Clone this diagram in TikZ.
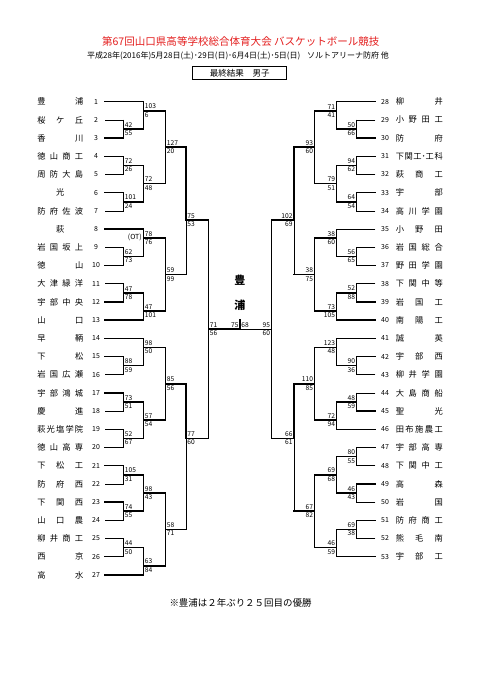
\documentclass[tikz,border=0pt]{standalone}
\usepackage{fontspec}
\setmainfont{Noto Sans CJK JP}
\usetikzlibrary{positioning}
\definecolor{titlered}{RGB}{228,30,30}
\tikzset{
    % Bracket lines
    win/.style  = {line width=1.15pt, line cap=rect},
    lose/.style = {line width=0.45pt, line cap=rect},
    % Texts
    score/.style      = {inner xsep=0.9pt, inner ysep=1.1pt, font=\fontsize{5}{5}\selectfont},
    teamno/.style     = {inner sep=0pt, font=\fontsize{5.2}{5.2}\selectfont},
    teamname/.style   = {inner sep=0pt, anchor=west, font=\fontsize{6.2}{6.2}\selectfont},
    heading/.style    = {inner sep=0pt, text=titlered, font=\fontsize{7.9}{8}\selectfont},
    subheading/.style = {inner sep=0pt, font=\fontsize{6}{6}\selectfont},
    resultbox/.style  = {draw, line width=0.5pt, minimum width=70.5pt, minimum height=9.5pt,
                         inner sep=0pt, font=\fontsize{6.4}{6.4}\selectfont},
    champion/.style   = {inner sep=0pt, font=\bfseries\fontsize{8.3}{8.3}\selectfont},
    note/.style       = {inner sep=0pt, font=\fontsize{7.1}{7.1}\selectfont}
}
% half-row grid (pixels, y down)
\newcommand{\ry}[1]{101.7+9.1*(#1)}
% columns of the bracket
\newcommand{\lxa}{123.5}\newcommand{\lxb}{143.5}\newcommand{\lxc}{165.5}
\newcommand{\lxd}{186}\newcommand{\lxe}{208.5}
\newcommand{\rxa}{356.5}\newcommand{\rxb}{336.5}\newcommand{\rxc}{314.5}
\newcommand{\rxd}{294}\newcommand{\rxe}{271.5}
\newcommand{\scoreside}{west}
% team: number, name, x of first match, line style
\newcommand{\lteam}[4]{%
    \node[teamname] (name#1) at (37,{\ry{2*(#1-1)}}) {\hbox to 34.5pt{#2}};
    \node[teamno] (no#1) at (96,{\ry{2*(#1-1)}}) {#1};
    \draw[#4] (105,{\ry{2*(#1-1)}}) -- (#3,{\ry{2*(#1-1)}});
}
\newcommand{\rteam}[4]{%
    \node[teamno] (no#1) at (385,{\ry{2*(#1-28)}}) {#1};
    \node[teamname] (name#1) at (395.5,{\ry{2*(#1-28)}}) {\hbox to 35.25pt{#2}};
    \draw[#4] (375,{\ry{2*(#1-28)}}) -- (#3,{\ry{2*(#1-28)}});
}
% match: id, x, top row, out row, bottom row, next x, top score, bottom score,
% 1 = top wins, 2 = bottom wins, 3 = top wins (thin out line)
\newcommand{\match}[9]{%
    \ifcase#9\or
        \draw[win]  (#2,{\ry{#3}}) -- (#2,{\ry{#4}});
        \draw[lose] (#2,{\ry{#4}}) -- (#2,{\ry{#5}});
        \draw[win]  (#2,{\ry{#4}}) -- (#6,{\ry{#4}});
    \or
        \draw[lose] (#2,{\ry{#3}}) -- (#2,{\ry{#4}});
        \draw[win]  (#2,{\ry{#4}}) -- (#2,{\ry{#5}});
        \draw[win]  (#2,{\ry{#4}}) -- (#6,{\ry{#4}});
    \or
        \draw[win]  (#2,{\ry{#3}}) -- (#2,{\ry{#4}});
        \draw[lose] (#2,{\ry{#4}}) -- (#2,{\ry{#5}});
        \draw[lose] (#2,{\ry{#4}}) -- (#6,{\ry{#4}});
    \fi
    \node[score, anchor=south \scoreside] (#1-top) at (#2,{\ry{#4}}) {#7};
    \node[score, anchor=north \scoreside] (#1-bot) at (#2,{\ry{#4}}) {#8};
}

\begin{document}
\begin{tikzpicture}[x=0.75pt, y=-0.75pt]
    \useasboundingbox (0,0) rectangle (481,680);
    \fill[white] (0,0) rectangle (481,680);

    % Heading
    \node[heading] (title) at (240.8,41.7) {第67回山口県高等学校総合体育大会 バスケットボール競技};
    \node[subheading] (dates) at (238,56) {平成28年(2016年)5月28日(土)･29日(日)･6月4日(土)･5日(日)\hspace{5pt}ソルトアリーナ防府 他};
    \node[resultbox] (result) at (239.7,73) {最終結果　男子};

    % Left teams
    \lteam{1}{豊\hfill 浦}{\lxb}{win}
    \lteam{2}{桜\hfill ケ\hfill 丘}{\lxa}{lose}
    \lteam{3}{香\hfill 川}{\lxa}{win}
    \lteam{4}{徳\hfill 山\hfill 商\hfill 工}{\lxa}{win}
    \lteam{5}{周\hfill 防\hfill 大\hfill 島}{\lxa}{lose}
    \lteam{6}{\hfill 光\hfill}{\lxa}{win}
    \lteam{7}{防\hfill 府\hfill 佐\hfill 波}{\lxa}{lose}
    \lteam{8}{\hfill 萩\hfill}{\lxb}{win}
    \lteam{9}{岩\hfill 国\hfill 坂\hfill 上}{\lxa}{lose}
    \lteam{10}{徳\hfill 山}{\lxa}{win}
    \lteam{11}{大\hfill 津\hfill 緑\hfill 洋}{\lxa}{lose}
    \lteam{12}{宇\hfill 部\hfill 中\hfill 央}{\lxa}{win}
    \lteam{13}{山\hfill 口}{\lxb}{win}
    \lteam{14}{早\hfill 鞆}{\lxb}{win}
    \lteam{15}{下\hfill 松}{\lxa}{win}
    \lteam{16}{岩\hfill 国\hfill 広\hfill 瀬}{\lxa}{lose}
    \lteam{17}{宇\hfill 部\hfill 鴻\hfill 城}{\lxa}{win}
    \lteam{18}{慶\hfill 進}{\lxa}{lose}
    \lteam{19}{萩\hfill 光\hfill 塩\hfill 学\hfill 院}{\lxa}{lose}
    \lteam{20}{徳\hfill 山\hfill 高\hfill 専}{\lxa}{win}
    \lteam{21}{下\hfill 松\hfill 工}{\lxa}{win}
    \lteam{22}{防\hfill 府\hfill 西}{\lxa}{lose}
    \lteam{23}{下\hfill 関\hfill 西}{\lxa}{win}
    \lteam{24}{山\hfill 口\hfill 農}{\lxa}{lose}
    \lteam{25}{柳\hfill 井\hfill 商\hfill 工}{\lxa}{lose}
    \lteam{26}{西\hfill 京}{\lxa}{win}
    \lteam{27}{高\hfill 水}{\lxb}{win}

    % Right teams
    \rteam{28}{柳\hfill 井}{\rxb}{win}
    \rteam{29}{小\hfill 野\hfill 田\hfill 工}{\rxa}{lose}
    \rteam{30}{防\hfill 府}{\rxa}{win}
    \rteam{31}{下\hfil 関\hfil 工･工\hfil 科}{\rxa}{win}
    \rteam{32}{萩\hfill 商\hfill 工}{\rxa}{lose}
    \rteam{33}{宇\hfill 部}{\rxa}{win}
    \rteam{34}{高\hfill 川\hfill 学\hfill 園}{\rxa}{lose}
    \rteam{35}{小\hfill 野\hfill 田}{\rxb}{lose}
    \rteam{36}{岩\hfill 国\hfill 総\hfill 合}{\rxa}{lose}
    \rteam{37}{野\hfill 田\hfill 学\hfill 園}{\rxa}{win}
    \rteam{38}{下\hfill 関\hfill 中\hfill 等}{\rxa}{lose}
    \rteam{39}{岩\hfill 国\hfill 工}{\rxa}{win}
    \rteam{40}{南\hfill 陽\hfill 工}{\rxb}{win}
    \rteam{41}{誠\hfill 英}{\rxb}{win}
    \rteam{42}{宇\hfill 部\hfill 西}{\rxa}{win}
    \rteam{43}{柳\hfill 井\hfill 学\hfill 園}{\rxa}{lose}
    \rteam{44}{大\hfill 島\hfill 商\hfill 船}{\rxa}{lose}
    \rteam{45}{聖\hfill 光}{\rxa}{win}
    \rteam{46}{田\hfill 布\hfill 施\hfill 農\hfill 工}{\rxb}{win}
    \rteam{47}{宇\hfill 部\hfill 高\hfill 専}{\rxa}{win}
    \rteam{48}{下\hfill 関\hfill 中\hfill 工}{\rxa}{lose}
    \rteam{49}{高\hfill 森}{\rxa}{win}
    \rteam{50}{岩\hfill 国}{\rxa}{lose}
    \rteam{51}{防\hfill 府\hfill 商\hfill 工}{\rxa}{win}
    \rteam{52}{熊\hfill 毛\hfill 南}{\rxa}{lose}
    \rteam{53}{宇\hfill 部\hfill 工}{\rxb}{win}

    % Left bracket
    \match{la}{\lxa}{2}{3}{4}{\lxb}{42}{55}{2}
    \match{lb}{\lxb}{0}{1}{3}{\lxc}{103}{6}{1}
    \match{lc}{\lxa}{6}{7}{8}{\lxb}{72}{26}{1}
    \match{ld}{\lxa}{10}{11}{12}{\lxb}{101}{24}{1}
    \match{le}{\lxb}{7}{9}{11}{\lxc}{72}{48}{1}
    \match{lf}{\lxc}{1}{5}{9}{\lxd}{127}{20}{1}
    \match{lg}{\lxa}{16}{17}{18}{\lxb}{62}{73}{2}
    \match{lh}{\lxb}{14}{15}{17}{\lxc}{78}{76}{1}
    \match{li}{\lxa}{20}{21}{22}{\lxb}{47}{78}{2}
    \match{lj}{\lxb}{21}{23}{24}{\lxc}{47}{101}{2}
    \match{lk}{\lxc}{15}{19}{23}{\lxd}{59}{99}{2}
    \match{ll}{\lxd}{5}{13}{19}{\lxe}{75}{53}{1}
    \match{lm}{\lxa}{28}{29}{30}{\lxb}{88}{59}{1}
    \match{ln}{\lxb}{26}{27}{29}{\lxc}{98}{50}{1}
    \match{lo}{\lxa}{32}{33}{34}{\lxb}{73}{51}{1}
    \match{lp}{\lxa}{36}{37}{38}{\lxb}{52}{67}{2}
    \match{lq}{\lxb}{33}{35}{37}{\lxc}{57}{54}{1}
    \match{lr}{\lxc}{27}{31}{35}{\lxd}{85}{56}{1}
    \match{ls}{\lxa}{40}{41}{42}{\lxb}{105}{31}{1}
    \match{lt}{\lxa}{44}{45}{46}{\lxb}{74}{55}{1}
    \match{lu}{\lxb}{41}{43}{45}{\lxc}{98}{43}{1}
    \match{lv}{\lxa}{48}{49}{50}{\lxb}{44}{50}{2}
    \match{lw}{\lxb}{49}{51}{52}{\lxc}{63}{84}{2}
    \match{lx}{\lxc}{43}{47}{51}{\lxd}{58}{71}{2}
    \match{ly}{\lxd}{31}{37}{47}{\lxe}{77}{60}{1}
    \match{lz}{\lxe}{13}{25}{37}{240}{71}{56}{1}
    \node[teamno, anchor=east] (ot) at (142,237) {(OT)};

    % Right bracket
    \renewcommand{\scoreside}{east}
    \match{ra}{\rxa}{2}{3}{4}{\rxb}{50}{66}{2}
    \match{rb}{\rxb}{0}{1}{3}{\rxc}{71}{41}{1}
    \match{rc}{\rxa}{6}{7}{8}{\rxb}{94}{62}{1}
    \match{rd}{\rxa}{10}{11}{12}{\rxb}{64}{54}{1}
    \match{re}{\rxb}{7}{9}{11}{\rxc}{79}{51}{1}
    \match{rf}{\rxc}{1}{5}{9}{\rxd}{93}{60}{1}
    \match{rg}{\rxa}{16}{17}{18}{\rxb}{56}{65}{2}
    \match{rh}{\rxb}{14}{15}{17}{\rxc}{38}{60}{2}
    \match{ri}{\rxa}{20}{21}{22}{\rxb}{52}{88}{2}
    \match{rj}{\rxb}{21}{23}{24}{\rxc}{73}{105}{2}
    \match{rk}{\rxc}{15}{19}{23}{\rxd}{38}{75}{2}
    \match{rl}{\rxd}{5}{13}{19}{\rxe}{102}{69}{1}
    \match{rm}{\rxa}{28}{29}{30}{\rxb}{90}{36}{1}
    \match{rn}{\rxb}{26}{27}{29}{\rxc}{123}{48}{1}
    \match{ro}{\rxa}{32}{33}{34}{\rxb}{48}{59}{2}
    \match{rp}{\rxb}{33}{35}{36}{\rxc}{72}{94}{2}
    \match{rq}{\rxc}{27}{31}{35}{\rxd}{110}{85}{1}
    \match{rr}{\rxa}{38}{39}{40}{\rxb}{80}{55}{1}
    \match{rs}{\rxa}{42}{43}{44}{\rxb}{46}{43}{1}
    \match{rt}{\rxb}{39}{41}{43}{\rxc}{69}{68}{1}
    \match{ru}{\rxa}{46}{47}{48}{\rxb}{69}{38}{1}
    \match{rv}{\rxb}{47}{49}{50}{\rxc}{46}{59}{2}
    \match{rw}{\rxc}{41}{45}{49}{\rxd}{67}{82}{2}
    \match{rx}{\rxd}{31}{37}{45}{\rxe}{66}{61}{1}
    \match{ry}{\rxe}{13}{25}{37}{240}{95}{60}{3}

    % Final
    \draw[win] (240,320) -- (240,{\ry{25}});
    \node[score, anchor=south east] (final-left) at (240,{\ry{25}}) {75};
    \node[score, anchor=south west] (final-right) at (240,{\ry{25}}) {68};
    \node[champion] (champa) at (240,280) {豊};
    \node[champion, below=10.5pt of champa] (champb) {浦};

    % Note
    \node[note] (footnote) at (240.5,602.7) {※豊浦は２年ぶり２５回目の優勝};
\end{tikzpicture}
\end{document}
